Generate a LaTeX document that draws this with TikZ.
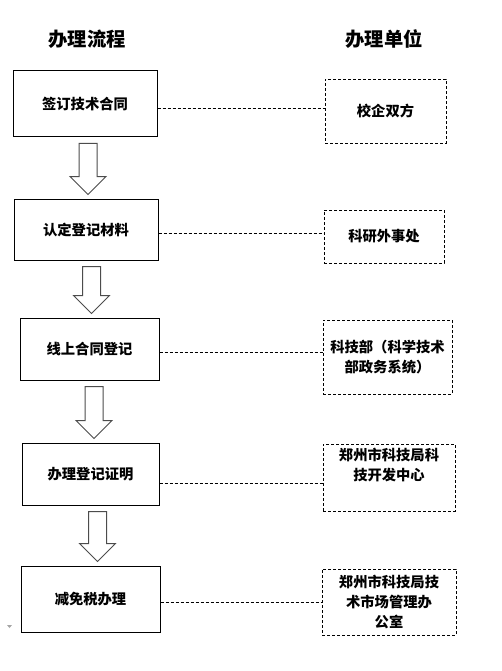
\documentclass[tikz,border=0pt]{standalone}
\usepackage{fontspec}
\newfontfamily\cjk{Noto Sans CJK SC}
\usetikzlibrary{calc}

\tikzset{
  heading/.style={font=\cjk\bfseries\fontsize{19.3}{22}\selectfont},
  stepbox/.style={draw, line width=1pt, inner sep=0pt, align=center,
    font=\cjk\bfseries\fontsize{14.3}{20}\selectfont},
  unitbox/.style={draw, dash pattern=on 3pt off 2pt, line width=0.9pt, inner sep=0pt,
    align=center, font=\cjk\bfseries\fontsize{14.3}{20}\selectfont},
  link/.style={dash pattern=on 3pt off 2pt, line width=0.9pt},
  blockarrow/.style={draw=black!70, fill=white, line width=1pt, line join=miter}
}

% hollow down arrow between two steps: upper, lower, x offset
\newcommand\flowarrow[3]{%
  \draw[blockarrow] let \p1=([xshift=#3pt]#1.south), \p2=(#2.north) in
    (\x1-9,\y1-6) -- (\x1+9,\y1-6) -- (\x1+9,\y2+22) -- (\x1+18,\y2+22)
    -- (\x1,\y2+4) -- (\x1-18,\y2+22) -- (\x1-9,\y2+22) -- cycle;
}

\begin{document}
\begin{tikzpicture}[x=1pt, y=-1pt]
  \useasboundingbox (0,0) rectangle (501,671);

  \node [heading] (h1) at (87,39) {办理流程};
  \node [heading] (h2) at (384,39) {办理单位};

  % steps
  \node [stepbox, minimum width=144, minimum height=66] (s1) at (85,104) {签订技术合同};
  \node [stepbox, minimum width=144, minimum height=61] (s2) at (86,229.5) {认定登记材料};
  \node [stepbox, minimum width=139, minimum height=62] (s3) at (89.5,349) {线上合同登记};
  \node [stepbox, minimum width=137, minimum height=62] (s4) at (90.5,474) {办理登记证明};
  \node [stepbox, minimum width=139, minimum height=66] (s5) at (90.5,599) {减免税办理};

  % units
  \node [unitbox, minimum width=121, minimum height=64] (u1) at (385.5,111) {校企双方};
  \node [unitbox, minimum width=120, minimum height=53] (u2) at (384,236.5) {科研外事处};
  \node [unitbox, minimum width=129, minimum height=74] (u3) at (387.5,357) {科技部（科学技术\\部政务系统）};
  \node [unitbox, minimum width=132, minimum height=67] (u4) at (389,477.5) {郑州市科技局科\\技开发中心\\\strut};
  \node [unitbox, minimum width=134, minimum height=66] (u5) at (389,602) {郑州市科技局技\\术市场管理办\\公室};

  \flowarrow{s1}{s2}{3}
  \flowarrow{s2}{s3}{5.5}
  \flowarrow{s3}{s4}{4.5}
  \flowarrow{s4}{s5}{7}

  \draw [link] ([yshift=-4pt]s1.east) -- ([yshift=-4pt]s1.east -| u1.west);
  \draw [link] ([yshift=-3.5pt]s2.east) -- ([yshift=-3.5pt]s2.east -| u2.west);
  \draw [link] ([yshift=-3pt]s3.east) -- ([yshift=-3pt]s3.east -| u3.west);
  \draw [link] ([yshift=-9pt]s4.east) -- ([yshift=-9pt]s4.east -| u4.west);
  \draw [link] ([yshift=-3pt]s5.east) -- ([yshift=-3pt]s5.east -| u5.west);

  \fill [black!35] (7,625) -- (12,625) -- (9.5,628) -- cycle;
\end{tikzpicture}
\end{document}
